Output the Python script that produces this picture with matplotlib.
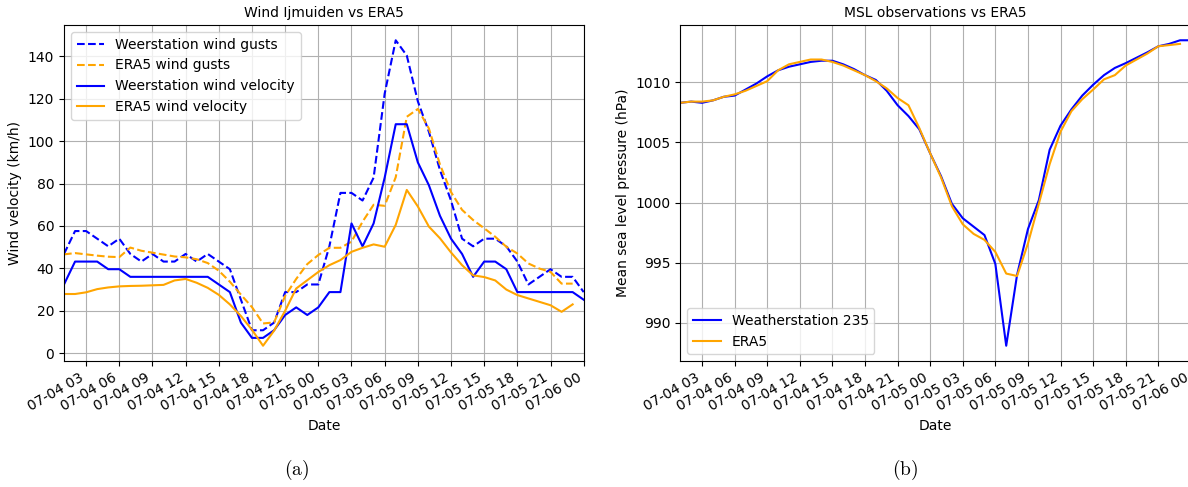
import matplotlib
matplotlib.use("Agg")
import matplotlib.pyplot as plt
import matplotlib.dates as mdates
import pandas as pd

# Hourly timestamps, storm of 4-5 July 2023
station_times = pd.date_range("2023-07-04 01:00", periods=48, freq="h")
era5_times = station_times[:47]

# Wind at IJmuiden (km/h)
station_gust = [46.8, 57.6, 57.6, 54.0, 50.4, 54.0, 46.8, 43.2, 46.8, 43.2,
                43.2, 46.8, 43.2, 46.8, 43.2, 39.6, 25.2, 10.8, 10.8, 14.4,
                28.8, 28.8, 32.4, 32.4, 50.4, 75.6, 75.6, 72.0, 82.8, 122.4,
                147.6, 140.4, 118.8, 104.4, 86.4, 72.0, 54.0, 50.4, 54.0, 54.0,
                50.4, 43.2, 32.4, 36.0, 39.6, 36.0, 36.0, 28.8]
era5_gust = [46.6, 47.2, 46.6, 46.0, 45.5, 45.3, 49.8, 48.3, 47.4, 46.5,
             45.6, 45.2, 44.3, 42.5, 38.9, 33.7, 27.6, 21.7, 14.0, 14.5,
             27.0, 35.0, 42.0, 46.3, 49.7, 49.7, 52.6, 62.0, 70.0, 69.5,
             83.0, 111.5, 115.2, 106.0, 89.0, 76.0, 67.6, 62.8, 58.9, 54.9,
             50.2, 47.0, 42.3, 39.9, 38.3, 32.8, 32.8]
station_wind = [32.4, 43.2, 43.2, 43.2, 39.6, 39.6, 36.0, 36.0, 36.0, 36.0,
                36.0, 36.0, 36.0, 36.0, 32.4, 28.8, 14.4, 7.2, 7.2, 10.8,
                18.0, 21.6, 18.0, 21.6, 28.8, 28.8, 61.2, 50.4, 61.2, 82.8,
                108.0, 108.0, 90.0, 79.2, 64.8, 54.0, 46.8, 36.0, 43.2, 43.2,
                39.6, 28.8, 28.8, 28.8, 28.8, 28.8, 28.8, 25.2]
era5_wind = [27.9, 27.9, 28.7, 30.2, 31.0, 31.5, 31.7, 31.8, 32.0, 32.2,
             34.3, 35.0, 33.2, 30.8, 27.5, 23.0, 17.5, 11.0, 3.5, 10.6,
             20.0, 30.5, 34.4, 38.3, 41.5, 43.9, 47.8, 49.7, 51.3, 50.2,
             60.5, 77.0, 69.2, 59.7, 54.2, 47.5, 41.5, 36.7, 35.9, 34.3,
             30.0, 27.4, 25.8, 24.2, 22.6, 19.5, 23.0]

# Mean sea level pressure (hPa)
msl_station = [1008.3, 1008.4, 1008.3, 1008.5, 1008.8, 1008.9, 1009.4, 1009.9,
               1010.5, 1011.0, 1011.3, 1011.5, 1011.7, 1011.8, 1011.8, 1011.5,
               1011.1, 1010.6, 1010.2, 1009.3, 1008.1, 1007.2, 1006.1, 1004.1,
               1002.2, 999.9, 998.7, 998.0, 997.3, 994.9, 988.1, 994.0,
               997.8, 1000.2, 1004.4, 1006.4, 1007.75, 1008.9, 1009.8, 1010.6,
               1011.2, 1011.6, 1012.05, 1012.5, 1013.0, 1013.2, 1013.5, 1013.5]
msl_era5 = [1008.3, 1008.4, 1008.4, 1008.5, 1008.8, 1009.0, 1009.3, 1009.7,
            1010.1, 1011.0, 1011.5, 1011.7, 1011.9, 1011.9, 1011.7, 1011.4,
            1011.0, 1010.6, 1010.1, 1009.5, 1008.7, 1008.1, 1006.2, 1004.1,
            1002.1, 999.7, 998.2, 997.4, 996.9, 995.9, 994.1, 993.9,
            996.6, 999.9, 1003.2, 1005.9, 1007.6, 1008.6, 1009.4, 1010.25,
            1010.6, 1011.4, 1011.9, 1012.4, 1013.0, 1013.1, 1013.2]

plt.rcParams["mathtext.fontset"] = "cm"

fig = plt.figure(figsize=(11.88, 4.87), dpi=100)
ax1 = fig.add_axes([64 / 1188, 126 / 487, 519.7 / 1188, 336 / 487])
ax2 = fig.add_axes([680.3 / 1188, 126 / 487, 510.6 / 1188, 336 / 487])


def format_time_axis(ax):
    ax.xaxis.set_major_locator(mdates.HourLocator(byhour=range(0, 24, 3)))
    ax.xaxis.set_major_formatter(mdates.DateFormatter("%m-%d %H"))
    ax.set_xlim(station_times[0], station_times[-1])
    plt.setp(ax.get_xticklabels(), rotation=30, ha="right")
    ax.set_xlabel("Date")
    ax.grid(True)


# Wind panel
ax1.plot(station_times, station_gust, "--", color="blue", label="Weerstation wind gusts")
ax1.plot(era5_times, era5_gust, "--", color="orange", label="ERA5 wind gusts")
ax1.plot(station_times, station_wind, "-", color="blue", label="Weerstation wind velocity")
ax1.plot(era5_times, era5_wind, "-", color="orange", label="ERA5 wind velocity")
ax1.set_title("Wind Ijmuiden vs ERA5", fontsize=10)
ax1.set_ylabel("Wind velocity (km/h)")
ax1.legend(loc="upper left")
format_time_axis(ax1)

# Pressure panel
ax2.plot(station_times, msl_station, color="blue", label="Weatherstation 235")
ax2.plot(era5_times, msl_era5, color="orange", label="ERA5")
ax2.set_title("MSL observations vs ERA5", fontsize=10)
ax2.set_ylabel("Mean sea level pressure (hPa)")
ax2.legend(loc="lower left")
format_time_axis(ax2)

fig.text(297 / 1188, 1 - 470 / 487, r"$\mathrm{(a)}$", fontsize=14, ha="center", va="center")
fig.text(905 / 1188, 1 - 470 / 487, r"$\mathrm{(b)}$", fontsize=14, ha="center", va="center")

fig.savefig("out.png", dpi=100)
